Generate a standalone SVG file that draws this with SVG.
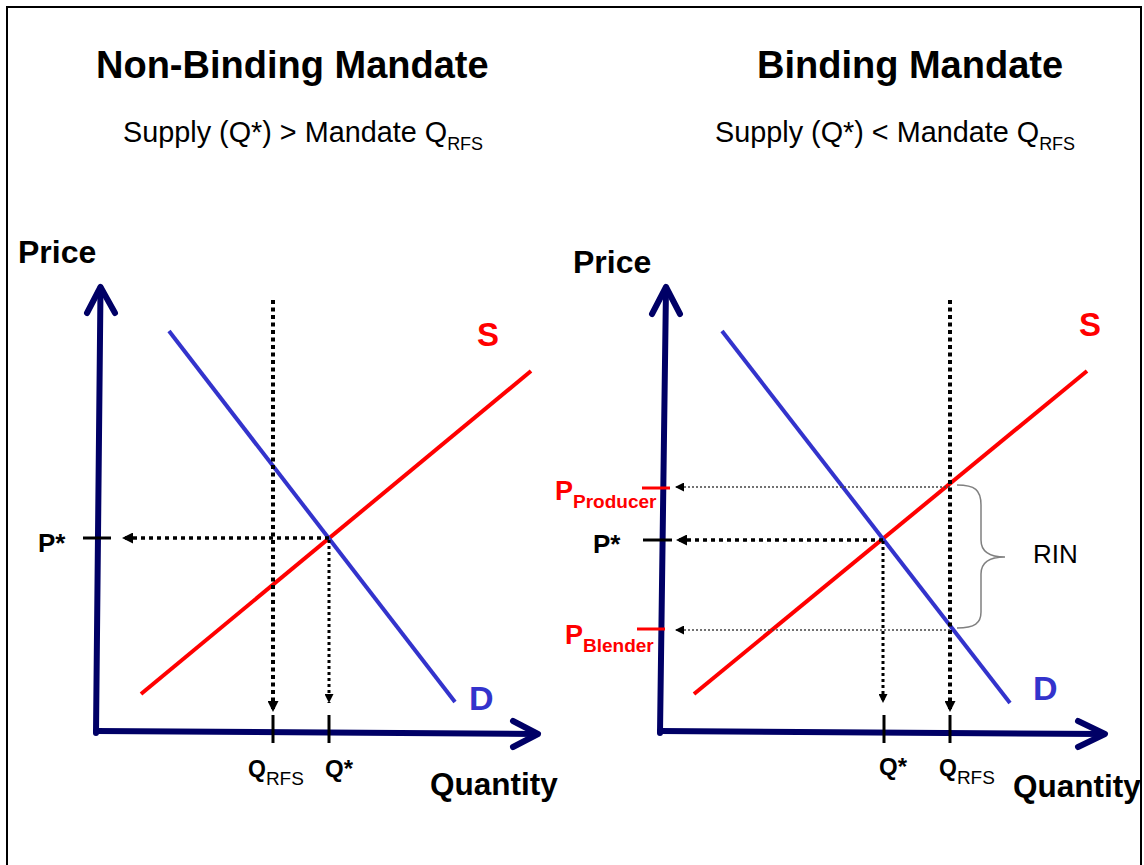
<svg xmlns="http://www.w3.org/2000/svg" width="1144" height="865" viewBox="0 0 1144 865">
<style>
text{font-family:"Liberation Sans",Arial,sans-serif;}
.b{font-weight:bold;}
.axis{stroke:#000066;stroke-width:6;fill:none;stroke-linecap:round;stroke-linejoin:round;}
.sup{stroke:#ff0000;stroke-width:4;}
.dem{stroke:#3333cc;stroke-width:4;}
.tick{stroke:#000;stroke-width:3;}
.rtick{stroke:#ff0000;stroke-width:3;}
.dthick{stroke:#000;stroke-width:4;stroke-dasharray:4 3.5;fill:none;}
.dmid{stroke:#000;stroke-width:3.5;stroke-dasharray:4 4;fill:none;}
.dthin{stroke:#000;stroke-width:3;stroke-dasharray:3 3;fill:none;}
.dgray{stroke:#444;stroke-width:1.5;stroke-dasharray:2 2;fill:none;}
</style>
<defs>
<marker id="ah" viewBox="0 0 10 10" refX="10" refY="5" markerUnits="userSpaceOnUse" markerWidth="12" markerHeight="11" orient="auto"><path d="M0,0 L10,5 L0,10 z" fill="#000"/></marker>
<marker id="ahs" viewBox="0 0 10 10" refX="10" refY="5" markerUnits="userSpaceOnUse" markerWidth="10" markerHeight="9" orient="auto"><path d="M0,0 L10,5 L0,10 z" fill="#000"/></marker>
</defs>
<rect x="0" y="0" width="1144" height="865" fill="#fff"/>
<rect x="7" y="7" width="1134" height="900" fill="none" stroke="#000" stroke-width="2"/>

<g id="titles">
<text x="96" y="78" class="b" font-size="38">Non-Binding Mandate</text>
<text x="757" y="78" class="b" font-size="38">Binding Mandate</text>
<text x="123" y="142" font-size="28.8">Supply (Q*) &gt; Mandate Q<tspan font-size="18" dy="8">RFS</tspan></text>
<text x="715" y="142" font-size="28.8">Supply (Q*) &lt; Mandate Q<tspan font-size="18" dy="8">RFS</tspan></text>
</g>

<g id="left-chart">
<g id="left-axes">
<line class="axis" x1="96" y1="733" x2="100.5" y2="288"/>
<polyline class="axis" points="87,313 100.5,287 115,313"/>
<line class="axis" x1="96" y1="731" x2="536" y2="734"/>
<polyline class="axis" points="513,721 538,734 513,747"/>
</g>
<line id="left-S" class="sup" x1="141" y1="694" x2="531" y2="371"/>
<line id="left-D" class="dem" x1="169" y1="331" x2="455" y2="702"/>
<g id="left-connectors">
<line class="dthick" x1="273" y1="300" x2="273" y2="712" marker-end="url(#ah)"/>
<line class="dthin" x1="329" y1="540" x2="329" y2="703" marker-end="url(#ahs)"/>
<line class="dmid" x1="329" y1="538" x2="122" y2="538" marker-end="url(#ah)"/>
</g>
<g id="left-ticks">
<line class="tick" x1="83" y1="538" x2="111" y2="538"/>
<line class="tick" x1="273" y1="715" x2="273" y2="743"/>
<line class="tick" x1="329" y1="715" x2="329" y2="743"/>
</g>
<g id="left-labels">
<text x="18" y="263" class="b" font-size="32">Price</text>
<text x="430" y="795" class="b" font-size="31.5">Quantity</text>
<text x="477" y="346" class="b" font-size="33" fill="#ff0000">S</text>
<text x="469" y="710" class="b" font-size="34" fill="#3333cc">D</text>
<text x="38" y="552" class="b" font-size="26">P*</text>
<text x="248" y="777" class="b" font-size="23">Q<tspan font-size="19" font-weight="normal" dy="8">RFS</tspan></text>
<text x="325" y="777" class="b" font-size="24">Q*</text>
</g>
</g>

<g id="right-chart">
<g id="right-axes">
<line class="axis" x1="660" y1="733" x2="666" y2="288"/>
<polyline class="axis" points="652,314 666,287 680,314"/>
<line class="axis" x1="660" y1="731" x2="1103" y2="734"/>
<polyline class="axis" points="1078,721 1105,734 1078,747"/>
</g>
<line id="right-S" class="sup" x1="694" y1="694" x2="1087" y2="371"/>
<line id="right-D" class="dem" x1="722" y1="331" x2="1010" y2="703"/>
<g id="right-connectors">
<line class="dthick" x1="950" y1="300" x2="950" y2="712" marker-end="url(#ah)"/>
<line class="dthin" x1="883" y1="541" x2="883" y2="703" marker-end="url(#ahs)"/>
<line class="dmid" x1="883" y1="540" x2="676" y2="540" marker-end="url(#ah)"/>
<line class="dgray" x1="950" y1="487" x2="675" y2="487" marker-end="url(#ahs)"/>
<line class="dgray" x1="950" y1="630" x2="675" y2="630" marker-end="url(#ahs)"/>
<path d="M957,485 C975,485 981,490 981,505 L981,540 C981,552 990,557 1005,557 C990,557 981,562 981,574 L981,612 C981,623 975,628 957,628" fill="none" stroke="#808080" stroke-width="1.5"/>
</g>
<g id="right-ticks">
<line class="rtick" x1="642" y1="488" x2="670" y2="488"/>
<line class="tick" x1="643" y1="540" x2="672" y2="540"/>
<line class="rtick" x1="637" y1="629" x2="665" y2="629"/>
<line class="tick" x1="884" y1="715" x2="884" y2="743"/>
<line class="tick" x1="950" y1="715" x2="950" y2="743"/>
</g>
<g id="right-labels">
<text x="573" y="273" class="b" font-size="32">Price</text>
<text x="1013" y="797" class="b" font-size="31.5">Quantity</text>
<text x="1079" y="336" class="b" font-size="33" fill="#ff0000">S</text>
<text x="1033" y="700" class="b" font-size="34" fill="#3333cc">D</text>
<text x="593" y="553" class="b" font-size="26">P*</text>
<text x="555" y="500" class="b" font-size="27" fill="#ff0000">P<tspan font-size="19" dy="8">Producer</tspan></text>
<text x="565" y="644" class="b" font-size="27" fill="#ff0000">P<tspan font-size="19" dy="8">Blender</tspan></text>
<text x="1033" y="563" font-size="26">RIN</text>
<text x="879" y="775" class="b" font-size="24">Q*</text>
<text x="939" y="776" class="b" font-size="23">Q<tspan font-size="19" font-weight="normal" dy="8">RFS</tspan></text>
</g>
</g>
</svg>
